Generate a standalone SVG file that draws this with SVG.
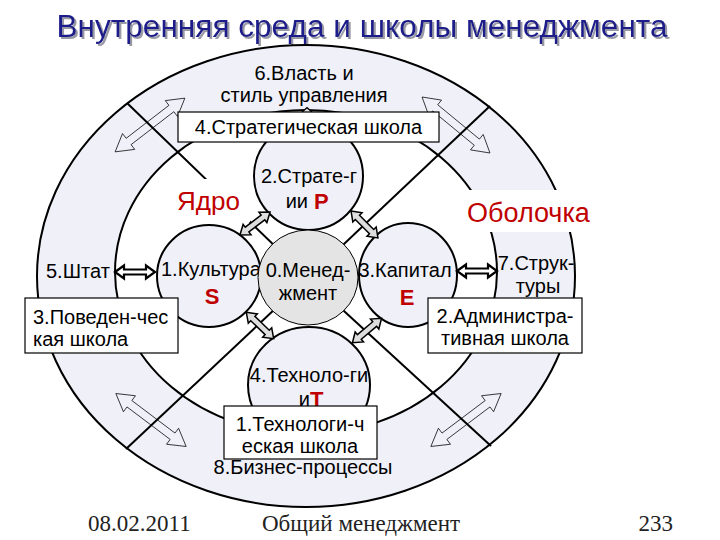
<svg xmlns="http://www.w3.org/2000/svg" width="720" height="540" viewBox="0 0 720 540">
<style>
  .t { font-family: "Liberation Sans", Arial, sans-serif; font-size: 20px; fill: #000; }
  .red { font-family: "Liberation Sans", Arial, sans-serif; fill: #c00000; }
  .redb { font-family: "Liberation Sans", Arial, sans-serif; fill: #c00000; font-weight: bold; font-size: 22px; }
  .foot { font-family: "Liberation Serif", "Times New Roman", serif; font-size: 23px; fill: #222; }
  .ring { fill: #eff0f8; stroke: #000; stroke-width: 2; }
  .node { fill: #eff0f8; stroke: #000; stroke-width: 2; }
  .box { fill: #fff; stroke: #000; stroke-width: 1.2; }
  .diag { stroke: #000; stroke-width: 2; fill: none; }
  .blk { fill: #dedede; stroke: #000; stroke-width: 1.5; stroke-linejoin: miter; }
  .hz { fill: #fff; stroke: #000; stroke-width: 2.2; }
  .thin { fill: none; stroke: #000; stroke-width: 0.7; }
</style>
<defs>
  <filter id="shadow" x="-5%" y="-30%" width="110%" height="160%">
    <feDropShadow dx="2" dy="2" stdDeviation="0.6" flood-color="#9a9aa6" flood-opacity="1"/>
  </filter>
  <path id="blkArrow" d="M-19,0 L-10,-6.5 L-10,-3 L10,-3 L10,-6.5 L19,0 L10,6.5 L10,3 L-10,3 L-10,6.5 Z"/>
  <path id="thinArrow" d="M-44,0 L-27,-10 L-27,-4 L27,-4 L27,-10 L44,0 L27,10 L27,4 L-27,4 L-27,10 Z"/>
  <path id="hzArrow" d="M-20,0 L-11,-6.5 L-11,-2.5 L11,-2.5 L11,-6.5 L20,0 L11,6.5 L11,2.5 L-11,2.5 L-11,6.5 Z"/>
</defs>

<rect width="720" height="540" fill="#fff"/>

<!-- title -->
<g id="title">
  <text x="362" y="37" text-anchor="middle" font-family="Liberation Sans, Arial, sans-serif" font-size="31" textLength="611" lengthAdjust="spacingAndGlyphs" fill="#1b1b8a" filter="url(#shadow)">Внутренняя среда и школы менеджмента</text>
</g>

<!-- ring (outer shell) -->
<g id="shell">
  <ellipse class="ring" cx="306" cy="276" rx="269" ry="231"/>
  <ellipse cx="306" cy="272" rx="191" ry="162" fill="#fff" stroke="#000" stroke-width="2"/>
</g>

<g id="connectors">
  <!-- diagonal separators -->
  <line class="diag" x1="308" y1="278" x2="127" y2="103"/>
  <line class="diag" x1="308" y1="278" x2="490" y2="106"/>
  <line class="diag" x1="308" y1="278" x2="126" y2="449"/>
  <line class="diag" x1="308" y1="278" x2="491" y2="446"/>
  <!-- thin hollow arrows in the ring -->
  <use href="#thinArrow" class="thin" transform="translate(150,125) rotate(-37.6)"/>
  <use href="#thinArrow" class="thin" transform="translate(456,125) rotate(39.5)"/>
  <use href="#thinArrow" class="thin" transform="translate(151,420) rotate(37)"/>
  <use href="#thinArrow" class="thin" transform="translate(466,420) rotate(143)"/>
</g>

<!-- white backgrounds of the region labels -->
<rect x="172" y="179" width="78" height="43" fill="#fff"/>
<rect x="463" y="190" width="140" height="42" fill="#fff"/>

<!-- small vertical arrow to 6 -->
<use href="#blkArrow" class="blk" transform="translate(307,120) rotate(90) scale(0.65,1)"/>

<g id="n2">
  <ellipse class="node" cx="308.5" cy="176" rx="54.5" ry="54"/>
  <text class="t" x="309" y="183" text-anchor="middle">2.Страте-г</text>
  <text class="t" x="308" y="208" text-anchor="end">ии</text>
  <text class="redb" x="314" y="209">P</text>
</g>
<g id="n1">
  <ellipse class="node" cx="209" cy="276" rx="52" ry="51"/>
  <text class="t" x="161" y="276">1.Культура</text>
  <text class="redb" x="212" y="304" text-anchor="middle">S</text>
</g>
<g id="n3">
  <ellipse class="node" cx="408" cy="275" rx="49" ry="52"/>
  <text class="redb" x="407" y="305" text-anchor="middle">E</text>
</g>
<g id="n4">
  <ellipse class="node" cx="309" cy="385" rx="61" ry="58"/>
  <text class="t" x="309" y="382" text-anchor="middle">4.Техноло-ги</text>
  <text class="t" x="310" y="406" text-anchor="end">и</text>
  <text class="redb" x="310" y="407" font-size="25">T</text>
</g>
<g id="n0">
  <ellipse cx="308" cy="277.5" rx="50" ry="47.5" fill="#e4e4e4" stroke="#000" stroke-width="1"/>
  <text class="t" x="308" y="277" text-anchor="middle">0.Менед-</text>
  <text class="t" x="308" y="300" text-anchor="middle">жмент</text>
</g>
<text class="t" x="405" y="277" text-anchor="middle">3.Капитал</text>

<g id="core-arrows">
  <use href="#blkArrow" class="blk" transform="translate(255,223.5) rotate(-37.5)"/>
  <use href="#blkArrow" class="blk" transform="translate(364.5,224.5) rotate(45)"/>
  <use href="#blkArrow" class="blk" transform="translate(260,325.5) rotate(44)"/>
  <use href="#blkArrow" class="blk" transform="translate(367,330.5) rotate(140)"/>
  <use href="#hzArrow" class="hz" transform="translate(135,272)"/>
  <use href="#hzArrow" class="hz" transform="translate(477,271)"/>
</g>

<g id="shell-labels">
  <text class="t" x="304" y="80" text-anchor="middle">6.Власть и</text>
  <text class="t" x="304" y="102" text-anchor="middle">стиль управления</text>
  <text class="t" x="46" y="278">5.Штат</text>
  <text class="t" x="536" y="270" text-anchor="middle">7.Струк-</text>
  <text class="t" x="538" y="293" text-anchor="middle">туры</text>
  <text class="t" x="303" y="474" text-anchor="middle">8.Бизнес-процессы</text>
  <text class="red" x="177" y="210" font-size="26">Ядро</text>
  <text class="red" x="467" y="222" font-size="27">Оболочка</text>
</g>

<g id="school-strategic">
  <rect class="box" x="178" y="112" width="261" height="30"/>
  <text class="t" x="308.5" y="134" text-anchor="middle">4.Стратегическая школа</text>
</g>
<g id="school-behavioral">
  <rect class="box" x="25" y="298" width="153" height="55"/>
  <text class="t" x="33" y="324">3.Поведен-чес</text>
  <text class="t" x="33" y="346">кая школа</text>
</g>
<g id="school-admin">
  <rect class="box" x="428" y="298" width="154" height="55"/>
  <text class="t" x="505" y="323" text-anchor="middle">2.Администра-</text>
  <text class="t" x="505" y="345" text-anchor="middle">тивная школа</text>
</g>
<g id="school-tech">
  <rect class="box" x="224" y="406" width="153" height="53"/>
  <text class="t" x="300" y="431" text-anchor="middle">1.Технологи-ч</text>
  <text class="t" x="300" y="453" text-anchor="middle">еская школа</text>
</g>

<g id="footer">
  <text class="foot" x="88" y="531">08.02.2011</text>
  <text class="foot" x="262" y="531">Общий менеджмент</text>
  <text class="foot" x="673" y="531" text-anchor="end">233</text>
</g>
</svg>
